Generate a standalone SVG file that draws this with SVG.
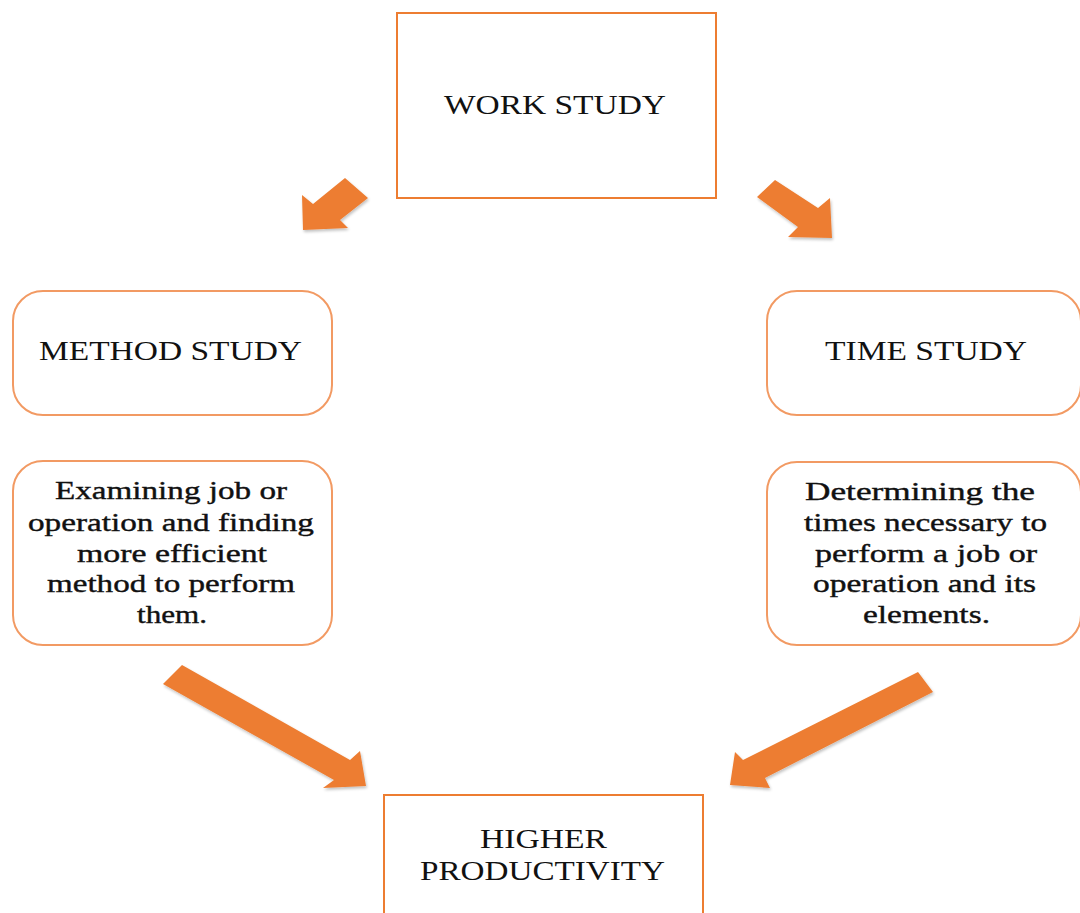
<svg xmlns="http://www.w3.org/2000/svg" width="1080" height="913" viewBox="0 0 1080 913">
  <style>
    .box { fill: #ffffff; stroke: #ED7D31; stroke-width: 2; }
    .rbox { fill: #ffffff; stroke: #F29A63; stroke-width: 2; }
    .title { font-family: "Liberation Serif", "Times New Roman", serif; font-size: 27px; fill: #111111; text-anchor: middle; }
    .desc { font-family: "Liberation Serif", "Times New Roman", serif; font-size: 26px; fill: #111111; text-anchor: middle; stroke: #111111; stroke-width: 0.4; }
    .arrow { fill: #ED7D31; }
  </style>
  <defs>
    <filter id="soft" x="-10%" y="-10%" width="120%" height="120%">
      <feGaussianBlur in="SourceAlpha" stdDeviation="1.5"/>
      <feOffset dx="1" dy="1.5" result="sh"/>
      <feComponentTransfer><feFuncA type="linear" slope="0.25"/></feComponentTransfer>
      <feMerge><feMergeNode/><feMergeNode in="SourceGraphic"/></feMerge>
    </filter>
  </defs>
  <rect width="1080" height="913" fill="#ffffff"/>

  <!-- top node -->
  <g id="work-study">
    <rect class="box" x="397" y="13" width="319" height="185"/>
    <text class="title" x="555" y="114" textLength="222" lengthAdjust="spacingAndGlyphs">WORK STUDY</text>
  </g>

  <!-- left column -->
  <g id="method-study">
    <rect class="rbox" x="13" y="291" width="319" height="124" rx="30" ry="30"/>
    <text class="title" x="170.5" y="360" textLength="263" lengthAdjust="spacingAndGlyphs">METHOD STUDY</text>
  </g>
  <g id="method-study-desc">
    <rect class="rbox" x="13" y="461" width="319" height="184" rx="30" ry="30"/>
    <text class="desc" x="171" y="499" textLength="232" lengthAdjust="spacingAndGlyphs">Examining job or</text>
    <text class="desc" x="171" y="531" textLength="286" lengthAdjust="spacingAndGlyphs">operation and finding</text>
    <text class="desc" x="172" y="562" textLength="190" lengthAdjust="spacingAndGlyphs">more efficient</text>
    <text class="desc" x="171" y="592" textLength="248" lengthAdjust="spacingAndGlyphs">method to perform</text>
    <text class="desc" x="172" y="623" textLength="70" lengthAdjust="spacingAndGlyphs">them.</text>
  </g>

  <!-- right column -->
  <g id="time-study">
    <rect class="rbox" x="767" y="291" width="314" height="124" rx="30" ry="30"/>
    <text class="title" x="926" y="360" textLength="202" lengthAdjust="spacingAndGlyphs">TIME STUDY</text>
  </g>
  <g id="time-study-desc">
    <rect class="rbox" x="767" y="462" width="314" height="183" rx="30" ry="30"/>
    <text class="desc" x="920" y="500" textLength="230" lengthAdjust="spacingAndGlyphs">Determining the</text>
    <text class="desc" x="925.5" y="531" textLength="243" lengthAdjust="spacingAndGlyphs">times necessary to</text>
    <text class="desc" x="926" y="562" textLength="222" lengthAdjust="spacingAndGlyphs">perform a job or</text>
    <text class="desc" x="924.5" y="592" textLength="223" lengthAdjust="spacingAndGlyphs">operation and its</text>
    <text class="desc" x="926.5" y="623" textLength="127" lengthAdjust="spacingAndGlyphs">elements.</text>
  </g>

  <!-- bottom node -->
  <g id="higher-productivity">
    <rect class="box" x="384" y="795" width="319" height="130"/>
    <text class="title" x="543.5" y="848" textLength="127" lengthAdjust="spacingAndGlyphs">HIGHER</text>
    <text class="title" x="542.5" y="880" textLength="245" lengthAdjust="spacingAndGlyphs">PRODUCTIVITY</text>
  </g>

  <!-- block arrows -->
  <g id="connectors" filter="url(#soft)">
    <polygon class="arrow" points="345,178 368,198 340,220 348,228 303,230 302,195 313,204"/>
    <polygon class="arrow" points="775,180 818,208 830,198 832,238 788,237 798,227 757,197"/>
    <polygon class="arrow" points="182,665 350,760 360,751 366,786 323,788 334,780 163,684"/>
    <polygon class="arrow" points="918,672 933,692 765,778 770,788 730,785 735,752 743,760"/>
  </g>
</svg>
